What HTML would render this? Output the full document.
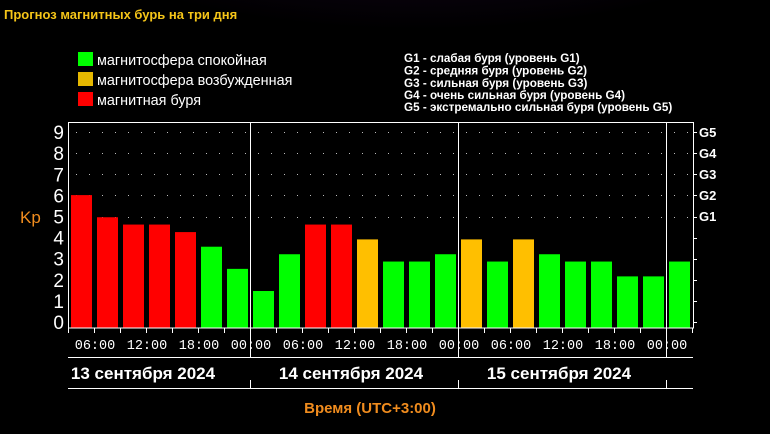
<!DOCTYPE html>
<html><head><meta charset="utf-8"><style>
html,body{margin:0;padding:0;background:#000;}
svg{display:block}
text{font-family:"Liberation Sans","DejaVu Sans",sans-serif;}
.m{font-family:"Liberation Mono",monospace;}
</style></head><body>
<svg width="770" height="434" viewBox="0 0 770 434" xmlns="http://www.w3.org/2000/svg">
<defs>
<radialGradient id="g" cx="0.5" cy="0" r="0.6">
<stop offset="0" stop-color="#2a0c3a"/><stop offset="0.5" stop-color="#12041a"/><stop offset="1" stop-color="#000"/>
</radialGradient>
</defs>
<rect width="770" height="434" fill="#000"/>
<ellipse cx="420" cy="0" rx="380" ry="150" fill="url(#g)"/>
<text x="4" y="19" font-size="13" font-weight="bold" fill="#f5c518">Прогноз магнитных бурь на три дня</text>
<rect x="78" y="52" width="15" height="14" fill="#00ff00"/>
<rect x="78" y="72" width="15" height="14" fill="#e6b800"/>
<rect x="78" y="92" width="15" height="14" fill="#ff0000"/>
<g font-size="14.4" fill="#fff">
<text x="97" y="65">магнитосфера спокойная</text>
<text x="97" y="85">магнитосфера возбужденная</text>
<text x="97" y="105">магнитная буря</text>
</g>
<g font-size="11.7" font-weight="bold" fill="#fff">
<text x="404" y="62">G1 - слабая буря (уровень G1)</text>
<text x="404" y="74.5">G2 - средняя буря (уровень G2)</text>
<text x="404" y="87">G3 - сильная буря (уровень G3)</text>
<text x="404" y="99">G4 - очень сильная буря (уровень G4)</text>
<text x="404" y="111">G5 - экстремально сильная буря (уровень G5)</text>
</g>
<g fill="#bbb" id="dots"></g>
<g id="bars"></g>
<rect x="68.5" y="122.5" width="625" height="205.5" fill="none" stroke="#fff"/>
<line x1="250.5" y1="122" x2="250.5" y2="358" stroke="#fff"/>
<line x1="458.5" y1="122" x2="458.5" y2="358" stroke="#fff"/>
<line x1="666.5" y1="122" x2="666.5" y2="358" stroke="#fff"/>
<line x1="68" y1="357.5" x2="693" y2="357.5" stroke="#fff"/>
<line x1="68" y1="388.5" x2="693" y2="388.5" stroke="#fff"/>
<line x1="250.5" y1="380" x2="250.5" y2="388" stroke="#fff"/>
<line x1="458.5" y1="380" x2="458.5" y2="388" stroke="#fff"/>
<line x1="666.5" y1="380" x2="666.5" y2="388" stroke="#fff"/>
<g font-size="19" fill="#fff" text-anchor="end" id="ylab"></g>
<text x="20" y="223" font-size="17" fill="#f08c1e">Kp</text>
<g font-size="13" font-weight="bold" fill="#fff">
<text x="699" y="221">G1</text><text x="699" y="200">G2</text><text x="699" y="179">G3</text>
<text x="699" y="158">G4</text><text x="699" y="137">G5</text>
</g>
<g font-size="13.5" fill="#fff" text-anchor="middle" class="m">
<text class="m" x="95" y="349">06:00</text>
<text class="m" x="147" y="349">12:00</text>
<text class="m" x="199" y="349">18:00</text>
<text class="m" x="251" y="349">00:00</text>
<text class="m" x="303" y="349">06:00</text>
<text class="m" x="355" y="349">12:00</text>
<text class="m" x="407" y="349">18:00</text>
<text class="m" x="459" y="349">00:00</text>
<text class="m" x="511" y="349">06:00</text>
<text class="m" x="563" y="349">12:00</text>
<text class="m" x="615" y="349">18:00</text>
<text class="m" x="667" y="349">00:00</text>
</g>
<g font-size="17" font-weight="bold" fill="#fff" text-anchor="middle">
<text x="143" y="379">13 сентября 2024</text>
<text x="351" y="379">14 сентября 2024</text>
<text x="559" y="379">15 сентября 2024</text>
</g>
<text x="370" y="413" font-size="15" font-weight="bold" fill="#f08c1e" text-anchor="middle">Время (UTC+3:00)</text>
<g id="ticks" stroke="#fff"></g>
</svg>
<script>
var ns="http://www.w3.org/2000/svg";
var vals=[6,5,4.67,4.67,4.33,3.67,2.67,1.67,3.33,4.67,4.67,4,3,3,3.33,4,3,4,3.33,3,3,2.33,2.33,3];
var bars=document.getElementById('bars');
function col(v){return v>=4.33?'#ff0000':(v>=4?'#ffbf00':'#00ff00');}
vals.forEach(function(v,i){
 var r=document.createElementNS(ns,'rect');
 var h=v*22.15;
 r.setAttribute('x',68+26*i+3);r.setAttribute('y',328-h);
 r.setAttribute('width',21);r.setAttribute('height',h);
 r.setAttribute('fill',col(v));bars.appendChild(r);
});
var yl=document.getElementById('ylab');
for(var k=0;k<=9;k++){var tx=document.createElementNS(ns,'text');
 tx.setAttribute('x',64);tx.setAttribute('y',(322-k*21.1+7).toFixed(1));tx.textContent=k;yl.appendChild(tx);}
var dots=document.getElementById('dots');
for(var k=5;k<=9;k++){var y=Math.round(322-k*21.1);
 for(var x=76;x<692;x+=13){var d=document.createElementNS(ns,'rect');
  d.setAttribute('x',x);d.setAttribute('y',y);d.setAttribute('width',1);d.setAttribute('height',1);dots.appendChild(d);}}
var t=document.getElementById('ticks');
for(var i=0;i<=24;i++){var l=document.createElementNS(ns,'line');var x=68.5+26*i;
 l.setAttribute('x1',x);l.setAttribute('x2',x);l.setAttribute('y1',328);l.setAttribute('y2',333);t.appendChild(l);}
for(var k=0;k<=9;k++){var l=document.createElementNS(ns,'line');var y=Math.round(322-k*21.1)+0.5;
 l.setAttribute('x1',693);l.setAttribute('x2',697);l.setAttribute('y1',y);l.setAttribute('y2',y);t.appendChild(l);}
</script>
</body></html>
